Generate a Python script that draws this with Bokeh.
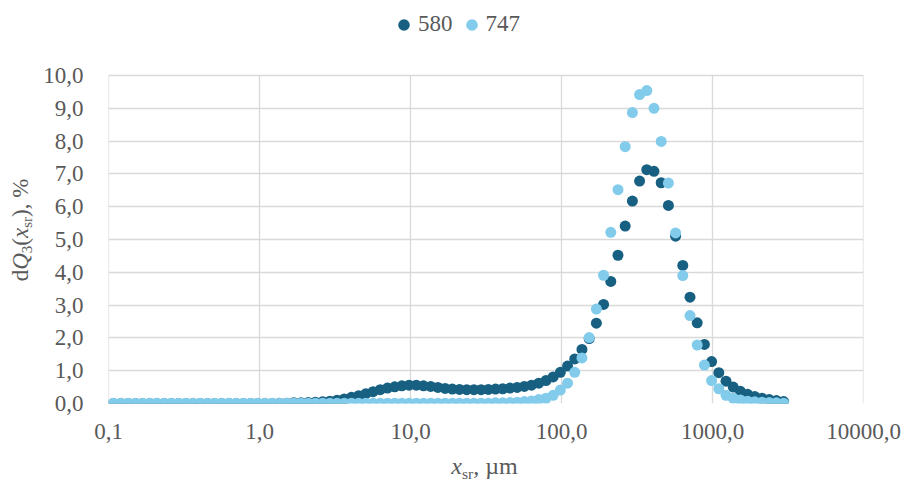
from bokeh.plotting import figure
from bokeh.layouts import row, column
from bokeh.models import (Range1d, FixedTicker, CustomJSTickFormatter, Legend,
                          LegendItem, Div)
from bokeh.embed import file_html
from bokeh.resources import INLINE

# Size classes, µm
size_um = [0.108, 0.121, 0.135, 0.151, 0.168, 0.188, 0.209, 0.234, 0.261, 0.291,
           0.325, 0.363, 0.405, 0.452, 0.504, 0.563, 0.628, 0.701, 0.783, 0.873,
           0.975, 1.088, 1.214, 1.355, 1.512, 1.688, 1.884, 2.103, 2.347, 2.619,
           2.924, 3.263, 3.642, 4.065, 4.537, 5.063, 5.651, 6.307, 7.039, 7.856,
           8.770, 9.788, 10.92, 12.19, 13.61, 15.19, 16.95, 18.92, 21.11, 23.57,
           26.30, 29.36, 32.77, 36.57, 40.82, 45.56, 50.84, 56.75, 63.34, 70.69,
           78.89, 88.05, 98.26, 109.7, 122.4, 136.6, 152.5, 170.2, 189.9, 212.0,
           236.6, 264.1, 294.7, 328.9, 367.1, 409.7, 457.3, 510.4, 569.6, 635.7,
           709.6, 791.9, 883.8, 986.5, 1101, 1229, 1372, 1531, 1709, 1907,
           2128, 2375, 2651, 2959]

# dQ3 per class, %
dq3_580 = [0.00, 0.00, 0.00, 0.00, 0.00, 0.00, 0.00, 0.00, 0.00, 0.00,
           0.00, 0.00, 0.00, 0.00, 0.00, 0.00, 0.00, 0.00, 0.00, 0.00,
           0.00, 0.00, 0.00, 0.01, 0.01, 0.02, 0.02, 0.03, 0.04, 0.05,
           0.07, 0.10, 0.14, 0.19, 0.24, 0.30, 0.36, 0.42, 0.47, 0.51,
           0.54, 0.56, 0.56, 0.54, 0.52, 0.49, 0.46, 0.44, 0.43, 0.42,
           0.42, 0.42, 0.43, 0.44, 0.45, 0.47, 0.49, 0.52, 0.56, 0.62,
           0.70, 0.81, 0.95, 1.14, 1.36, 1.65, 1.98, 2.45, 3.02, 3.72,
           4.52, 5.41, 6.17, 6.78, 7.13, 7.08, 6.73, 6.04, 5.10, 4.21,
           3.24, 2.46, 1.80, 1.28, 0.94, 0.68, 0.50, 0.37, 0.28, 0.21,
           0.16, 0.12, 0.09, 0.06]

dq3_747 = [0.01, 0.01, 0.01, 0.01, 0.01, 0.01, 0.01, 0.01, 0.01, 0.01,
           0.01, 0.01, 0.01, 0.01, 0.01, 0.01, 0.01, 0.01, 0.01, 0.01,
           0.01, 0.01, 0.01, 0.01, 0.01, 0.01, 0.01, 0.01, 0.01, 0.01,
           0.01, 0.01, 0.01, 0.01, 0.01, 0.01, 0.01, 0.01, 0.01, 0.01,
           0.01, 0.01, 0.01, 0.01, 0.01, 0.01, 0.01, 0.01, 0.01, 0.01,
           0.01, 0.01, 0.01, 0.02, 0.02, 0.03, 0.04, 0.06, 0.08, 0.12,
           0.16, 0.25, 0.41, 0.62, 0.95, 1.39, 2.01, 2.88, 3.91, 5.22,
           6.52, 7.83, 8.87, 9.42, 9.54, 9.00, 7.99, 6.72, 5.20, 3.90,
           2.68, 1.78, 1.17, 0.70, 0.45, 0.25, 0.16, 0.11, 0.07, 0.05,
           0.04, 0.03, 0.02, 0.01]

series_names = ["580", "747"]
x_ticks = [0.1, 1, 10, 100, 1000, 10000]
y_ticks = [0, 1, 2, 3, 4, 5, 6, 7, 8, 9, 10]

# Axis titles (HTML with italics and subscripts)
SUB = '<span style="font-size:0.65em;vertical-align:-0.3em;line-height:0;">{}</span>'
x_title = "<i>x</i>" + SUB.format("sr") + ", µm"
y_title = "d<i>Q</i>" + SUB.format("3") + "(<i>x</i>" + SUB.format("sr") + "), %"

DARK = "#176082"
LIGHT = "#82cbeb"
GRID = "#d9d9d9"
TEXT = "#595959"
FONT = "Liberation Serif"

YT_W = 40          # strip holding the rotated y title
XT_H = 34          # strip holding the x title
P_W = 906 - YT_W
P_H = 482 - XT_H
HEAD = 75          # room above the value range for the legend
BOTTOM = P_H - 403
PX_PER_UNIT = (403 - HEAD) / (y_ticks[-1] - y_ticks[0])
y_top = y_ticks[-1] + HEAD / PX_PER_UNIT

p = figure(width=P_W, height=P_H, x_axis_type="log",
           x_range=Range1d(x_ticks[0], x_ticks[-1]),
           y_range=Range1d(y_ticks[0], y_top),
           output_backend="svg", toolbar_location=None,
           min_border_left=106 - YT_W, min_border_right=43,
           min_border_top=0, min_border_bottom=BOTTOM, margin=0)
p.outline_line_color = None
p.background_fill_color = "white"
p.border_fill_color = "white"

fmt = CustomJSTickFormatter(code="return tick.toFixed(1).replace('.', ',');")

for ax in (p.xaxis[0], p.yaxis[0]):
    ax.formatter = fmt
    ax.major_tick_line_color = None
    ax.minor_tick_line_color = None
    ax.major_tick_out = 0
    ax.major_tick_in = 0
    ax.axis_line_color = None
    ax.major_label_text_font = FONT
    ax.major_label_text_font_size = "23px"
    ax.major_label_text_color = TEXT

p.xaxis[0].ticker = FixedTicker(ticks=x_ticks, minor_ticks=[])
p.yaxis[0].ticker = FixedTicker(ticks=y_ticks, minor_ticks=[])
p.xaxis[0].major_label_standoff = 20
p.yaxis[0].major_label_standoff = 25

# horizontal grid from the axis; vertical grid only spans the value range
p.ygrid.grid_line_color = GRID
p.ygrid.grid_line_width = 1.3
p.xgrid.visible = False
p.segment(x0=x_ticks, y0=[y_ticks[0]] * len(x_ticks),
          x1=x_ticks, y1=[y_ticks[-1]] * len(x_ticks),
          line_color=GRID, line_width=1.3)

r1 = p.scatter(size_um, dq3_580, marker="circle", size=11,
               fill_color=DARK, line_color=None)
r2 = p.scatter(size_um, dq3_747, marker="circle", size=11,
               fill_color=LIGHT, line_color=None)

legend = Legend(items=[LegendItem(label=series_names[0], renderers=[r1]),
                       LegendItem(label=series_names[1], renderers=[r2])],
                orientation="horizontal", location=(281, 364.5),
                glyph_width=29, glyph_height=29, label_height=29,
                label_standoff=-3, spacing=4, padding=0, margin=0,
                border_line_color=None, background_fill_alpha=0,
                label_text_font=FONT, label_text_font_size="23px",
                label_text_color=TEXT, label_text_baseline="middle")
p.add_layout(legend, "center")

font_css = f"font-family:'{FONT}';line-height:23px;color:{TEXT};white-space:nowrap;"

ydiv = Div(width=YT_W, height=482, margin=0, text=(
    f'<div style="position:relative;width:{YT_W}px;height:482px;">'
    f'<div style="position:absolute;left:20px;top:230px;font-size:23px;'
    f'transform:translate(-50%,-50%) rotate(-90deg);{font_css}">{y_title}</div></div>'))

xdiv = Div(width=P_W, height=XT_H, margin=0, text=(
    f'<div style="position:relative;width:{P_W}px;height:{XT_H}px;">'
    f'<div style="position:absolute;left:{106 - YT_W}px;width:757px;top:7px;'
    f'font-size:24px;text-align:center;{font_css}">{x_title}</div></div>'))

layout = row(ydiv, column(p, xdiv, spacing=0, margin=0), spacing=0, margin=0)

open("out.html", "w").write(file_html(layout, INLINE))
